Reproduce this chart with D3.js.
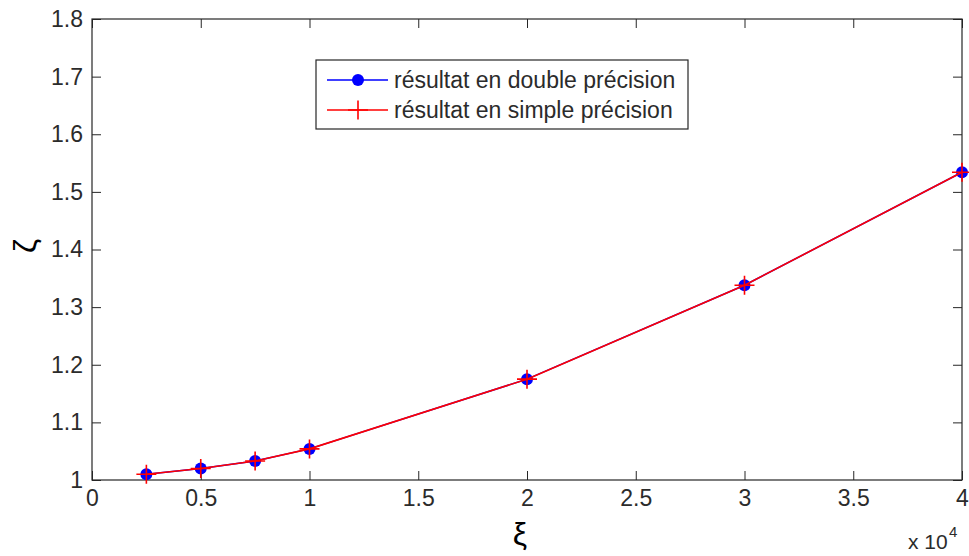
<!DOCTYPE html>
<html>
<head>
<meta charset="utf-8">
<script src="https://cdn.jsdelivr.net/npm/d3@7"></script>
<style>
  body { margin: 0; background: #fff; }
  svg text { font-family: "Liberation Sans", Arial, sans-serif; fill: #2b2b2b; }
</style>
</head>
<body>
<div id="chart"></div>
<script>
// values
var xi = [2500, 5000, 7500, 10000, 20000, 30000, 40000];
var zetaDouble = [1.010, 1.020, 1.033, 1.054, 1.175, 1.338, 1.534];
var zetaSimple = [1.010, 1.020, 1.033, 1.054, 1.175, 1.338, 1.534];
var xTicks = [0, 5000, 10000, 15000, 20000, 25000, 30000, 35000, 40000];
var xTickLabels = ["0", "0.5", "1", "1.5", "2", "2.5", "3", "3.5", "4"];
var yTicks = [1, 1.1, 1.2, 1.3, 1.4, 1.5, 1.6, 1.7, 1.8];
var legendLabels = ["résultat en double précision", "résultat en simple précision"];

var W = 969, H = 556,
    plotL = 92, plotR = 962, plotT = 19, plotB = 480,
    tickLen = 9;

var svg = d3.select("#chart").append("svg")
  .attr("width", W).attr("height", H);

var x = d3.scaleLinear().domain([0, 40000]).range([plotL, plotR]);
var y = d3.scaleLinear().domain([1, 1.8]).range([plotB, plotT]);

// axes: bottom/left with labels, top/right ticks only, all ticks pointing in
var fmtX = function(d, i) { return xTickLabels[i]; };

svg.append("g").attr("transform", "translate(0," + plotB + ")")
  .call(d3.axisBottom(x).tickValues(xTicks).tickFormat(fmtX).tickSizeInner(-tickLen).tickSizeOuter(0).tickPadding(10))
  .call(function(g) {
    g.selectAll("text").attr("font-size", 23).attr("fill", "#2b2b2b");
  });
svg.append("g").attr("transform", "translate(0," + plotT + ")")
  .call(d3.axisTop(x).tickValues(xTicks).tickFormat("").tickSizeInner(-tickLen).tickSizeOuter(0));
svg.append("g").attr("transform", "translate(" + plotL + ",0)")
  .call(d3.axisLeft(y).tickValues(yTicks).tickFormat(d3.format(".1~f")).tickSizeInner(-tickLen).tickSizeOuter(0).tickPadding(9))
  .call(function(g) {
    g.selectAll("text").attr("font-size", 23).attr("fill", "#2b2b2b");
  });
svg.append("g").attr("transform", "translate(" + plotR + ",0)")
  .call(d3.axisRight(y).tickValues(yTicks).tickFormat("").tickSizeInner(-tickLen).tickSizeOuter(0));

svg.selectAll(".domain").remove();
svg.selectAll(".tick line").attr("stroke", "#262626");
svg.append("rect")
  .attr("x", plotL).attr("y", plotT)
  .attr("width", plotR - plotL).attr("height", plotB - plotT)
  .attr("fill", "none").attr("stroke", "#262626").attr("stroke-width", 1.2);

// exponent
svg.append("text").attr("x", 908).attr("y", 549).attr("font-size", 21).text("x 10");
svg.append("text").attr("x", 949).attr("y", 537).attr("font-size", 15).text("4");

// axis labels
svg.append("text").attr("x", 520).attr("y", 545).attr("font-size", 32)
  .attr("text-anchor", "middle").attr("font-family", "DejaVu Sans").style("fill", "#000").text("ξ");
svg.append("g").attr("transform", "translate(36,246)")
  .append("text").attr("transform", "rotate(-90)").attr("font-size", 32)
  .attr("text-anchor", "middle").attr("font-family", "DejaVu Sans").style("fill", "#000").text("ζ");

// series
var line = d3.line().x(function(d) { return x(d[0]); }).y(function(d) { return y(d[1]); });
var dbl = d3.zip(xi, zetaDouble), smp = d3.zip(xi, zetaSimple);

svg.append("path").datum(dbl).attr("d", line)
  .attr("fill", "none").attr("stroke", "#0000ff").attr("stroke-width", 1.5);
svg.selectAll(".dot").data(dbl).enter().append("circle")
  .attr("cx", function(d) { return x(d[0]); })
  .attr("cy", function(d) { return y(d[1]); })
  .attr("r", 6).attr("fill", "#0000ff");

svg.append("path").datum(smp).attr("d", line)
  .attr("fill", "none").attr("stroke", "#ff0000").attr("stroke-width", 1.6);
function plus(g, cx, cy) {
  g.append("path")
    .attr("d", "M" + (cx - 10) + "," + cy + "H" + (cx + 10) + "M" + cx + "," + (cy - 9.5) + "V" + (cy + 9.5))
    .attr("stroke", "#ff0000").attr("stroke-width", 1.6);
}
smp.forEach(function(d) { plus(svg, x(d[0]), y(d[1])); });

// legend
var lg = svg.append("g");
lg.append("rect").attr("x", 316).attr("y", 60).attr("width", 372).attr("height", 69)
  .attr("fill", "#fff").attr("stroke", "#262626").attr("stroke-width", 1.2);
lg.append("line").attr("x1", 327).attr("x2", 388).attr("y1", 80).attr("y2", 80)
  .attr("stroke", "#0000ff").attr("stroke-width", 1.5);
lg.append("circle").attr("cx", 358).attr("cy", 80).attr("r", 6).attr("fill", "#0000ff");
lg.append("line").attr("x1", 327).attr("x2", 388).attr("y1", 110).attr("y2", 110)
  .attr("stroke", "#ff0000").attr("stroke-width", 1.5);
plus(lg, 358, 110);
lg.selectAll(".lt").data(legendLabels).enter().append("text")
  .attr("x", 394).attr("y", function(d, i) { return 88 + i * 30; })
  .attr("font-size", 23).text(function(d) { return d; });
</script>
</body>
</html>
